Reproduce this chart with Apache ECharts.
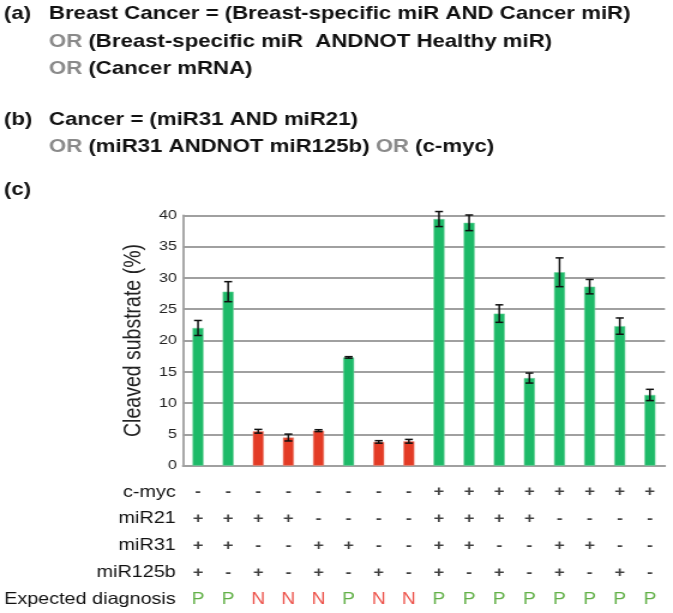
<!DOCTYPE html>
<html>
<head>
<meta charset="utf-8">
<script src="https://cdn.jsdelivr.net/npm/echarts@6/dist/echarts.min.js"></script>
<style>
html,body{margin:0;padding:0;background:#fff;overflow:hidden;}
#c{width:561px;height:613px;transform:scaleX(1.19964);transform-origin:0 0;}
</style>
</head>
<body>
<div id="c"></div>
<script>
// ---- data ----
var categories = ['1','2','3','4','5','6','7','8','9','10','11','12','13','14','15','16'];
var cleaved = [22.0, 27.8, 5.5, 4.5, 5.6, 17.3, 3.8, 3.9, 39.4, 38.8, 24.3, 14.0, 30.9, 28.6, 22.3, 11.3];
var errors  = [1.2, 1.6, 0.3, 0.55, 0.15, 0.12, 0.2, 0.3, 1.2, 1.25, 1.4, 0.8, 2.3, 1.15, 1.3, 0.9];
var cMyc    = ['-','-','-','-','-','-','-','-','+','+','+','+','+','+','+','+'];
var miR21   = ['+','+','+','+','-','-','-','-','+','+','+','+','-','-','-','-'];
var miR31   = ['+','+','-','-','+','+','-','-','+','+','-','-','+','+','-','-'];
var miR125b = ['+','-','+','-','+','-','+','-','+','-','+','-','+','-','+','-'];
var diagnosis = ['P','P','N','N','N','P','N','N','P','P','P','P','P','P','P','P'];
var rowLabels = ['c-myc','miR21','miR31','miR125b','Expected diagnosis'];
var yTicks = [0, 5, 10, 15, 20, 25, 30, 35, 40];

var FONT = "'Liberation Sans', Arial, Helvetica, sans-serif";
var GREEN = '#1dba68', RED = '#e33b25';
var PGREEN = '#3c9e1c', NRED = '#e8281e';

var rows = [cMyc, miR21, miR31, miR125b, diagnosis];
var tableData = [];
rows.forEach(function (r, ri) {
  r.forEach(function (s, ci) {
    var col = s === 'P' ? PGREEN : (s === 'N' ? NRED : '#111');
    var isPN = (s === 'P' || s === 'N');
    tableData.push({ value: [ci, ri, s],
      label: { color: col, fontSize: isPN ? 16 : 15, fontWeight: isPN ? 'normal' : 'bold' } });
  });
});

var barData = cleaved.map(function (v, i) {
  return { value: v, itemStyle: { color: diagnosis[i] === 'P' ? GREEN : RED,
    borderColor: diagnosis[i] === 'P' ? '#6fd39c' : '#f08a78', borderWidth: 0.6 } };
});
var errData = cleaved.map(function (v, i) { return [i, v - errors[i], v + errors[i]]; });

var chart = echarts.init(document.getElementById('c'), null, { renderer: 'canvas' });

function txt(x, y, text) {
  return { type: 'text', x: x, y: y, silent: true,
    style: { text: text, font: 'bold 18.5px ' + FONT, fill: '#111', verticalAlign: 'middle', align: 'left',
      rich: { g: { fill: '#8a8a8a', font: 'bold 18.5px ' + FONT }, k: { fill: '#111', font: 'bold 18.5px ' + FONT } } } };
}

var option = {
  animation: false,
  backgroundColor: '#fff',
  graphic: [
    txt(3.3, 14, '(a)'),
    txt(40.8, 14, 'Breast Cancer = (Breast-specific miR AND Cancer miR)'),
    txt(40.8, 41.5, '{g|OR} {k|(Breast-specific miR  ANDNOT Healthy miR)}'),
    txt(40.8, 68.7, '{g|OR} {k|(Cancer mRNA)}'),
    txt(3.3, 120, '(b)'),
    txt(40.8, 120, 'Cancer = (miR31 AND miR21)'),
    txt(40.8, 147, '{g|OR} {k|(miR31 ANDNOT miR125b)} {g|OR} {k|(c-myc)}'),
    txt(3.3, 190, '(c)')
  ],
  grid: [
    { left: 152.5, right: 6.7, top: 215.3, bottom: 147.3 },
    { left: 152.5, right: 6.7, top: 478.6, height: 137 }
  ],
  xAxis: [
    { type: 'category', gridIndex: 0, data: categories,
      axisLine: { show: true, lineStyle: { color: '#a0a0a0', width: 1.8 } },
      axisTick: { show: false }, axisLabel: { show: false }, splitLine: { show: false } },
    { type: 'category', gridIndex: 1, data: categories, show: false }
  ],
  yAxis: [
    { type: 'value', gridIndex: 0, min: 0, max: 40, interval: 5,
      name: 'Cleaved substrate (%)', nameLocation: 'middle', nameGap: 11,
      nameTextStyle: { fontFamily: FONT, fontSize: 19.5, color: '#222' },
      axisLine: { show: true, lineStyle: { color: '#a0a0a0', width: 1.8 } },
      axisTick: { show: false },
      axisLabel: { fontFamily: FONT, fontSize: 13.5, color: '#222', margin: 5,
        formatter: function (v) { return yTicks.indexOf(v) >= 0 ? String(v) : ''; } },
      splitLine: { show: true, lineStyle: { color: '#a0a0a0', width: 1.8 } } },
    { type: 'category', gridIndex: 1, data: rowLabels, inverse: true,
      axisLine: { show: false }, axisTick: { show: false }, splitLine: { show: false },
      axisLabel: { fontFamily: FONT, fontSize: 16.5, color: '#111', margin: 6 } }
  ],
  series: [
    { type: 'bar', xAxisIndex: 0, yAxisIndex: 0, data: barData, barWidth: 9.2 },
    { type: 'custom', xAxisIndex: 0, yAxisIndex: 0, data: errData, z: 10,
      renderItem: function (params, api) {
        var lo = api.coord([api.value(0), api.value(1)]);
        var hi = api.coord([api.value(0), api.value(2)]);
        var w = 3.3;
        var st = { stroke: '#111', lineWidth: 1.5 };
        return { type: 'group', children: [
          { type: 'line', shape: { x1: hi[0], y1: hi[1], x2: lo[0], y2: lo[1] }, style: st },
          { type: 'line', shape: { x1: hi[0] - w, y1: hi[1], x2: hi[0] + w, y2: hi[1] }, style: st },
          { type: 'line', shape: { x1: lo[0] - w, y1: lo[1], x2: lo[0] + w, y2: lo[1] }, style: st }
        ] };
      } },
    { type: 'scatter', xAxisIndex: 1, yAxisIndex: 1, data: tableData,
      symbol: 'rect', symbolSize: 4,
      itemStyle: { color: 'rgba(0,0,0,0)' },
      label: { show: true, position: 'inside', fontFamily: FONT,
        formatter: function (p) { return p.value[2]; } } }
  ]
};

chart.setOption(option);
</script>
</body>
</html>
